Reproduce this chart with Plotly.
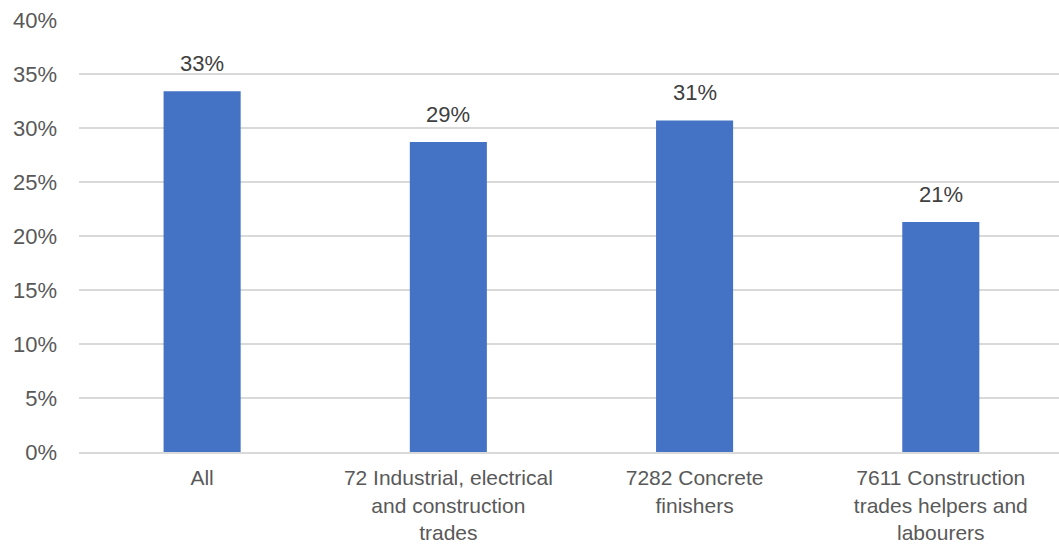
import plotly.graph_objects as go

categories = [
    "All",
    "72 Industrial, electrical<br>and construction<br>trades",
    "7282 Concrete<br>finishers",
    "7611 Construction<br>trades helpers and<br>labourers",
]
shares = [0.334, 0.287, 0.307, 0.213]
y_ticks = [0, 0.05, 0.10, 0.15, 0.20, 0.25, 0.30, 0.35, 0.40]

FONT = "Liberation Sans, Arial, sans-serif"
SIZE = 22
positions = list(range(len(categories)))

fig = go.Figure(
    go.Bar(
        x=positions,
        y=shares,
        marker=dict(color="#4472C4", line=dict(width=0)),
        width=0.313,
        hoverinfo="skip",
    )
)

# value labels sitting a little above each bar
for xp, v in zip(positions, shares):
    fig.add_annotation(
        x=xp,
        y=v,
        text=f"{v:.0%}",
        showarrow=False,
        yanchor="bottom",
        yshift=13,
        font=dict(family=FONT, size=SIZE, color="#404040"),
    )

fig.update_layout(
    width=1059,
    height=544,
    margin=dict(l=79, r=0, t=20, b=92),
    paper_bgcolor="white",
    plot_bgcolor="white",
    showlegend=False,
    font=dict(family=FONT, size=SIZE, color="#595959"),
)

fig.update_xaxes(
    tickmode="array",
    tickvals=positions,
    ticktext=categories,
    range=[-0.5, 3.48],
    showgrid=False,
    showline=True,
    linecolor="#d9d9d9",
    linewidth=2,
    ticks="",
    tickfont=dict(family=FONT, size=21, color="#595959"),
    ticklabelstandoff=6,
    automargin=False,
)

fig.update_yaxes(
    range=[0, 0.40],
    tickvals=y_ticks,
    tickformat=".0%",
    showgrid=True,
    gridcolor="#d9d9d9",
    gridwidth=2,
    zeroline=False,
    showline=False,
    ticks="",
    tickfont=dict(family=FONT, size=SIZE, color="#595959"),
    ticklabelstandoff=21,
    automargin=False,
)

fig.write_html("out.html")
